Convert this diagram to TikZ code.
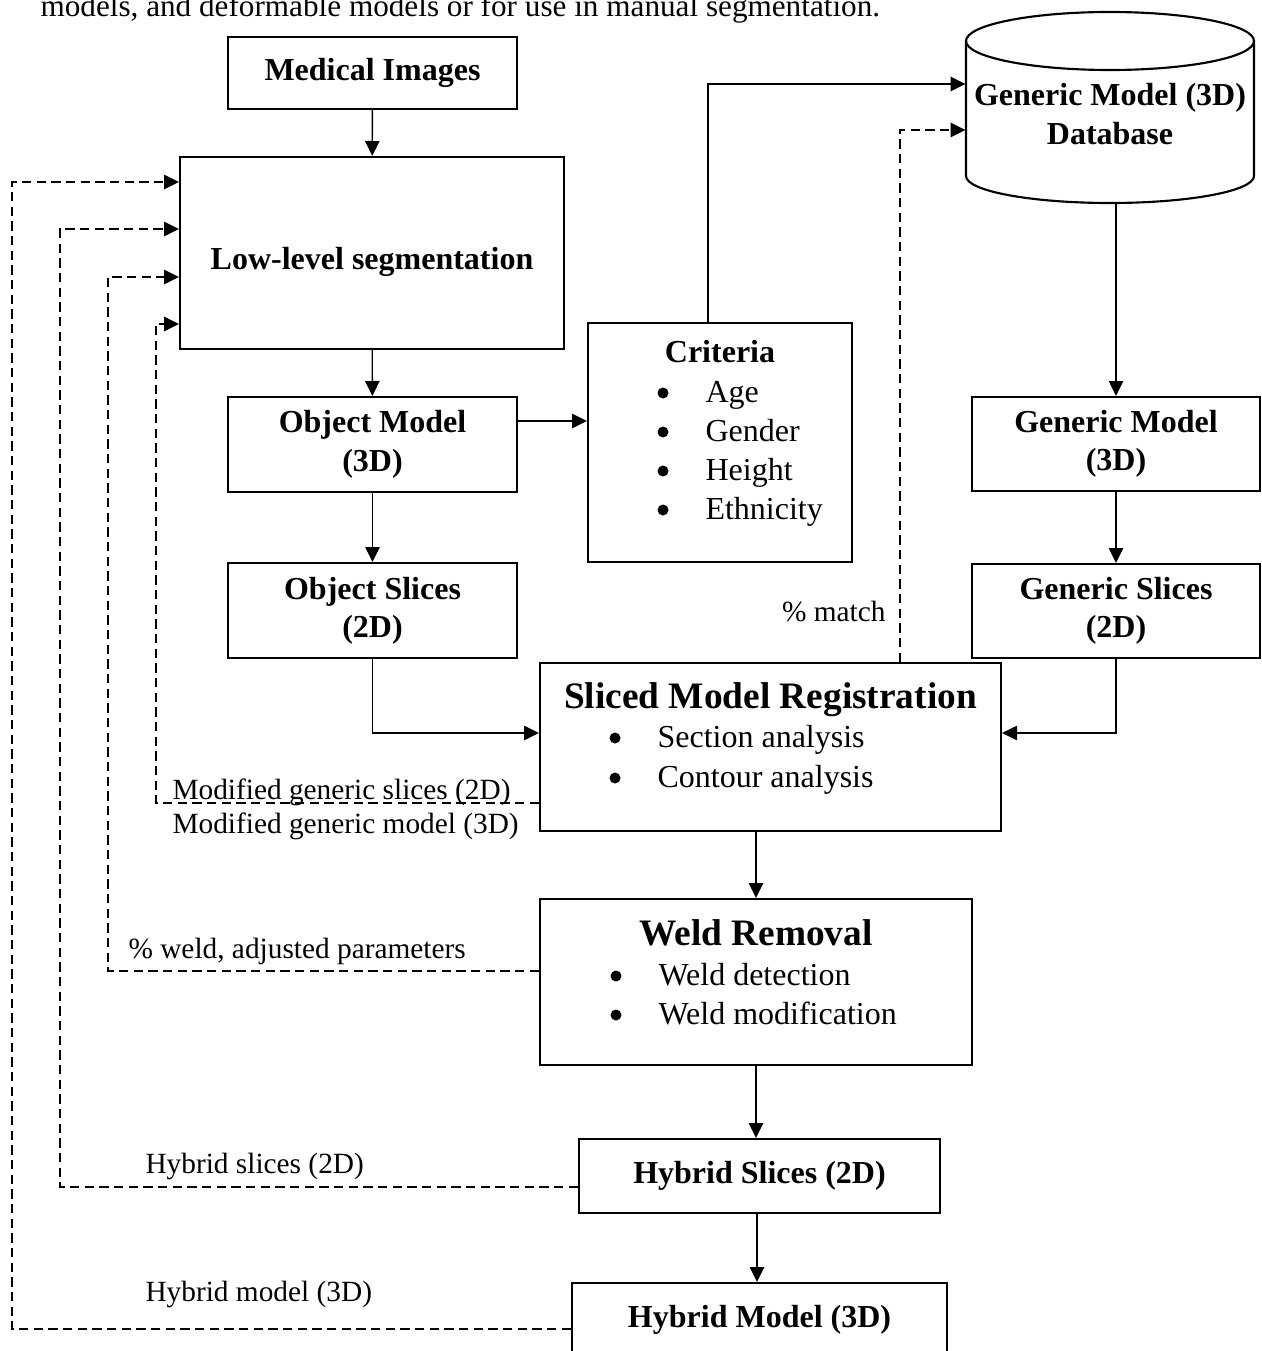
\documentclass[tikz,border=0pt]{standalone}
\usepackage{fontspec}
\setmainfont{Liberation Serif}
\usetikzlibrary{arrows.meta}
\tikzset{
	sz/.style 2 args={minimum width=#1*0.375pt, minimum height=#2*0.375pt},
	box/.style={draw, line width=0.8pt, inner sep=0pt, align=center, font=\fontsize{12}{14.4}\selectfont\bfseries},
	arr/.style={line width=0.5pt, -{Triangle[length=5.6pt,width=5.4pt]}},
	fb/.style={arr, dash pattern=on 3.5pt off 2pt},
	hd/.style={anchor=base, inner sep=0pt, font=\fontsize{12}{14.4}\selectfont\bfseries},
	ttl/.style={anchor=base, inner sep=0pt, font=\fontsize{14}{17}\selectfont\bfseries},
	itm/.style={anchor=base west, inner sep=0pt, font=\fontsize{12}{14.4}\selectfont},
	lbl/.style={anchor=base west, inner sep=0pt, font=\fontsize{11}{13}\selectfont},
}
\begin{document}
\begin{tikzpicture}[x=0.375pt, y=-0.375pt]
		\useasboundingbox (0,0) rectangle (1261,1351);
		\clip (0,0) rectangle (1261,1351);
		\node[itm, font=\fontsize{11.7}{14}\selectfont] (cut) at (40,17) {models, and deformable models or for use in manual segmentation.};
		\node[box, sz={289}{72}] (med) at (372.5,73) {Medical Images};
		\node[box, sz={384}{192}, text height=12.75pt, text depth=0pt] (seg) at (372,253) {Low-level segmentation};
		\node[box, sz={289}{95}] (om) at (372.5,444.5) {Object Model\\(3D)};
		\node[box, sz={289}{95}] (os) at (372.5,610.5) {Object Slices\\(2D)};
		\node[box, sz={264}{239}] (crit) at (720,442.5) {};
		\node[hd] (critt) at (720,362) {Criteria};
		\foreach \t [count=\i] in {Age,Gender,Height,Ethnicity}{
			\node[itm] (crit\i) at (705,{363+39*\i}) {\t};
			\fill (crit\i.base west) ++(-42,-9) circle (5.5);
		}
		\node[sz={288}{191}, inner sep=0pt] (db) at (1110,107.5) {};
		\draw[line width=0.8pt] (1110,41) ellipse [x radius=144, y radius=29];
		\draw[line width=0.8pt] (966,41) -- (966,176) arc[start angle=180, end angle=0, x radius=144, y radius=27] -- (1254,41);
		\node[box, draw=none] (dbt) at (1110,114) {Generic Model (3D)\\Database};
		\node[box, sz={288}{94}] (gm) at (1116,444) {Generic Model\\(3D)};
		\node[box, sz={288}{94}] (gs) at (1116,611) {Generic Slices\\(2D)};
		\node[box, sz={461}{168}] (smr) at (770.5,747) {};
		\node[ttl] (smrt) at (770.5,708) {Sliced Model Registration};
		\node[itm] (smr1) at (657,747) {Section analysis};
		\node[itm] (smr2) at (657,787) {Contour analysis};
		\node[box, sz={432}{166}] (wr) at (756,982) {};
		\node[ttl] (wrt) at (756,945) {Weld Removal};
		\node[itm] (wr1) at (658,985) {Weld detection};
		\node[itm] (wr2) at (658,1024) {Weld modification};
		\foreach \n in {smr1,smr2,wr1,wr2}
			\fill (\n.base west) ++(-42,-9) circle (5.5);
		\node[box, sz={361}{74}] (hs) at (759.5,1176) {Hybrid Slices (2D)};
		\node[box, sz={375}{84}, text height=1.5pt, text depth=0pt] (hm) at (759.5,1325) {Hybrid Model (3D)};
		\draw[arr] (med) -- (seg);
		\draw[arr] (seg) -- (om);
		\draw[arr] (om.east |- 0,421) -- (crit.west |- 0,421);
		\draw[arr] (om) -- (os);
		\draw[arr] (crit.north -| 708,0) |- (db.west |- 0,84);
		\draw[arr] (gm.north |- db.south) -- (gm.north);
		\draw[arr] (gm) -- (gs);
		\draw[arr] (os.south) |- (smr.west |- 0,733);
		\draw[arr] (gs.south) |- (smr.east |- 0,733);
		\draw[fb] (smr.north -| 900,0) |- (db.west |- 0,130);
		\draw[arr] (wr.north |- smr.south) -- (wr.north);
		\draw[arr] (wr.south) -- (wr.south |- hs.north);
		\draw[arr] (hs.south -| 757,0) -- (hm.north -| 757,0);
		\draw[fb] (smr.west |- 0,803) -- (156,803) |- (seg.west |- 0,324);
		\draw[fb] (wr.west |- 0,971) -- (108,971) |- (seg.west |- 0,277);
		\draw[fb] (hs.west |- 0,1187) -- (60,1187) |- (seg.west |- 0,229);
		\draw[fb] (hm.west |- 0,1329) -- (12,1329) |- (seg.west |- 0,182);
		\node[lbl] (l1) at (172,799) {Modified generic slices (2D)};
		\node[lbl] (l2) at (172,833) {Modified generic model (3D)};
		\node[lbl] (l3) at (128,958) {\% weld, adjusted parameters};
		\node[lbl] (l4) at (145,1173) {Hybrid slices (2D)};
		\node[lbl] (l5) at (145,1301) {Hybrid model (3D)};
		\node[lbl, anchor=base east] (l6) at (886,621) {\% match};
	\end{tikzpicture}
\end{document}
